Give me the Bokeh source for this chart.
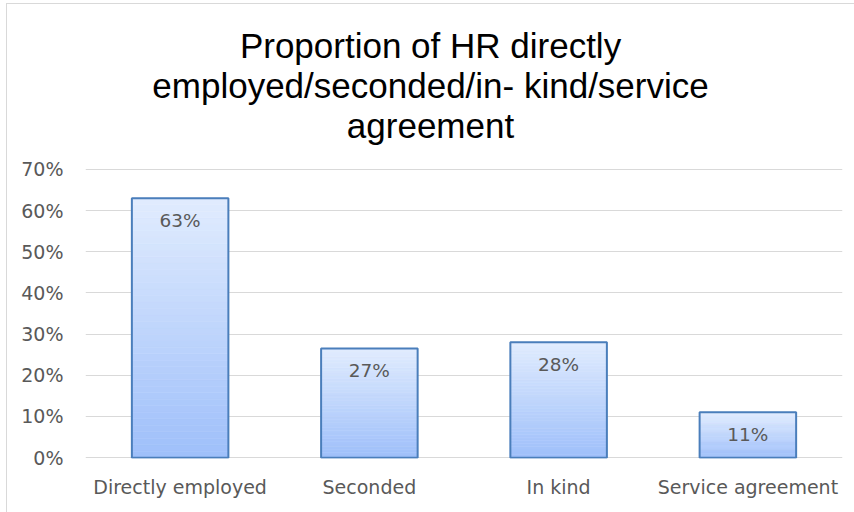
from bokeh.plotting import figure
from bokeh.layouts import column
from bokeh.models import (ColumnDataSource, FactorRange, Range1d, NumeralTickFormatter,
                          FixedTicker)
from bokeh.core.properties import value
from bokeh.embed import file_html
from bokeh.resources import INLINE

# ---- data ----
categories = ["Directly employed", "Seconded", "In kind", "Service agreement"]
shares = [0.63, 0.265, 0.28, 0.11]
data_labels = ["63%", "27%", "28%", "11%"]
y_ticks = [0.0, 0.1, 0.2, 0.3, 0.4, 0.5, 0.6, 0.7]
title_text = "Proportion of HR directly\nemployed/seconded/in- kind/service\nagreement"

# ---- style ----
TEXT_GRAY = "#595959"
GRID = "#d9d9d9"
BAR_EDGE = "#4a7ebb"
TOP_RGB = (0xE1, 0xEC, 0xFE)
BOT_RGB = (0x9E, 0xBF, 0xFA)
BAR_W = 0.51
N_SLICES = 40
TICK_FONT = "DejaVu Sans"
W = 848
TH = 150

# ---- title strip ----
tfig = figure(width=W, height=TH, x_range=Range1d(0, W), y_range=Range1d(0, TH),
              output_backend="svg", toolbar_location=None,
              x_axis_location=None, y_axis_location=None,
              min_border=0)
tfig.grid.visible = False
tfig.outline_line_color = None
tfig.text(x=[386.5], y=[128.5], text=[title_text], text_align="center",
          text_baseline="top", text_font=value("Liberation Sans"),
          text_font_size="35px", text_color="black", text_line_height=1.03)

# ---- bar chart ----
Y0, Y1 = -0.002, 0.702
p = figure(width=W, height=358, x_range=FactorRange(*categories),
           y_range=Range1d(Y0, Y1), output_backend="svg", toolbar_location=None,
           min_border_left=78, min_border_right=13, min_border_top=14,
           min_border_bottom=54)
p.outline_line_color = None

gx, gb, gt, gc = [], [], [], []
for cat, v in zip(categories, shares):
    for k in range(N_SLICES):
        f = (k + 0.5) / N_SLICES  # 0 bottom -> 1 top
        r = round(BOT_RGB[0] + (TOP_RGB[0] - BOT_RGB[0]) * f)
        g = round(BOT_RGB[1] + (TOP_RGB[1] - BOT_RGB[1]) * f)
        b = round(BOT_RGB[2] + (TOP_RGB[2] - BOT_RGB[2]) * f)
        gx.append(cat)
        gb.append(v * k / N_SLICES)
        gt.append(v * (k + 1) / N_SLICES)
        gc.append("#%02x%02x%02x" % (r, g, b))
grad = ColumnDataSource(dict(x=gx, bottom=gb, top=gt, color=gc))
p.vbar(x="x", bottom="bottom", top="top", width=BAR_W, source=grad,
       fill_color="color", line_color="color", line_width=0.6)

src = ColumnDataSource(dict(x=categories, top=shares, lab=data_labels))
p.vbar(x="x", top="top", bottom=0, width=BAR_W, source=src,
       fill_alpha=0, line_color=BAR_EDGE, line_width=2)

p.text(x="x", y="top", text="lab", source=src, text_align="center",
       text_baseline="middle", y_offset=22, text_color=TEXT_GRAY,
       text_font=value(TICK_FONT), text_font_size="18.5px")

p.yaxis.ticker = FixedTicker(ticks=y_ticks)
p.yaxis.formatter = NumeralTickFormatter(format="0%")
for ax in (p.xaxis[0], p.yaxis[0]):
    ax.axis_line_color = None
    ax.major_tick_line_color = None
    ax.minor_tick_line_color = None
    ax.major_tick_out = 0
    ax.major_tick_in = 0
    ax.major_label_text_color = TEXT_GRAY
    ax.major_label_text_font = TICK_FONT
    ax.major_label_text_font_size = "19px"
p.yaxis.major_label_standoff = 22
p.xaxis.major_label_standoff = 17
p.xgrid.grid_line_color = None
p.ygrid.grid_line_color = GRID
p.ygrid.grid_line_width = 1

layout = column(tfig, p, spacing=0, margin=(3, 0, 0, 6),
                styles={"border-left": "1.5px solid #d9d9d9",
                        "border-top": "1.5px solid #d9d9d9"})

open("out.html", "w").write(file_html(layout, INLINE))
